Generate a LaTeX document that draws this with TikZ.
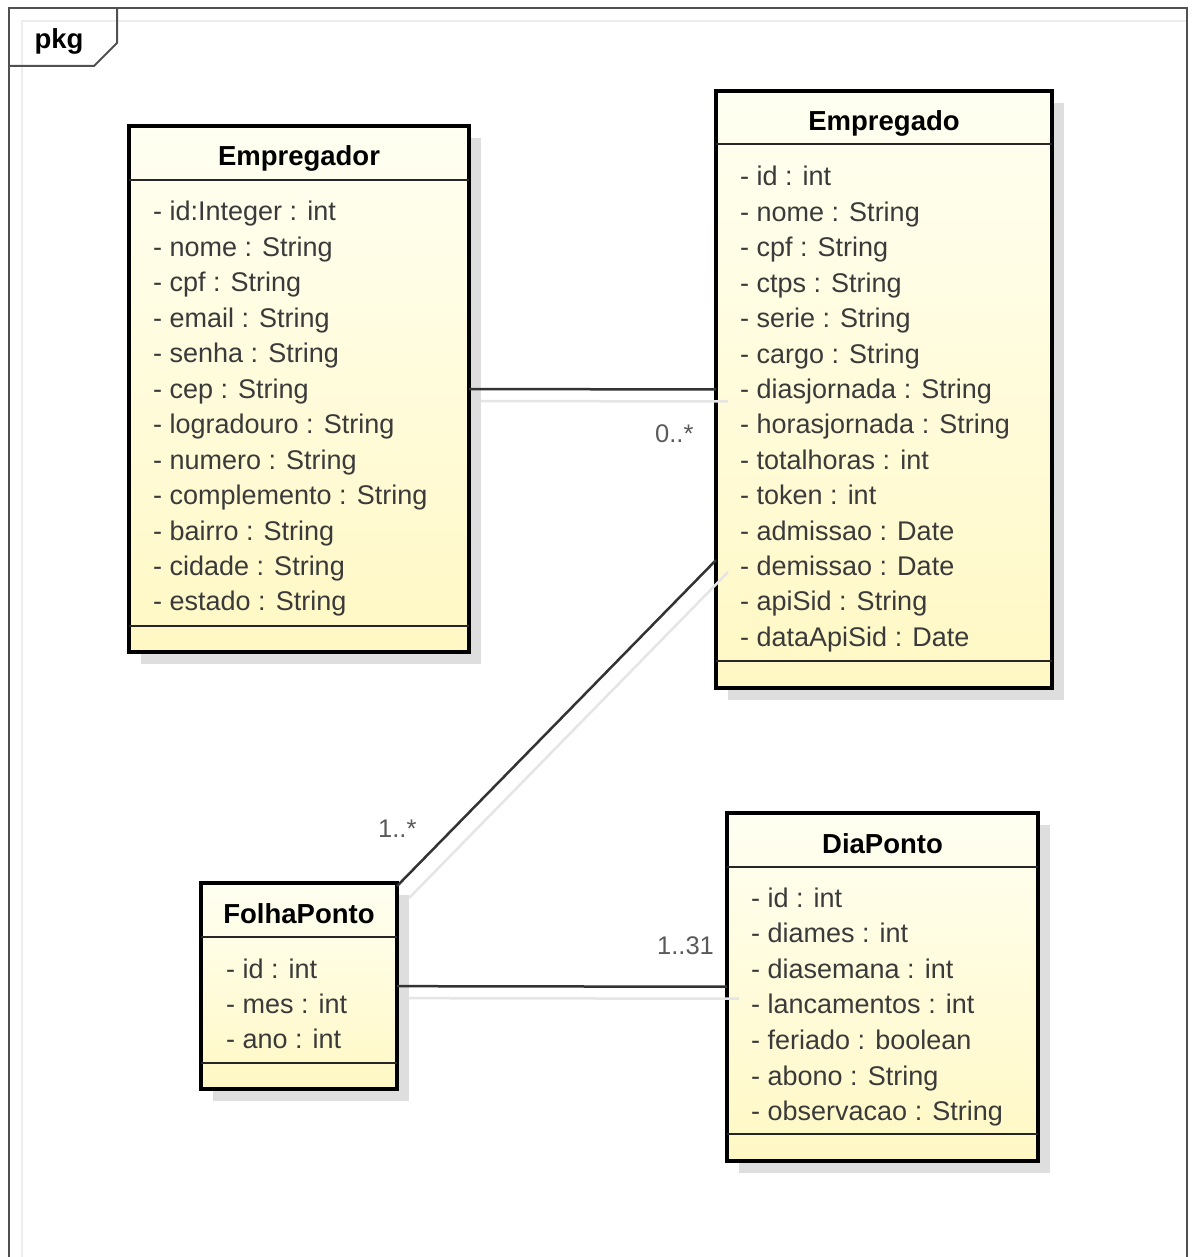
\documentclass[tikz,border=0pt]{standalone}
\usepackage{fontspec}
\setmainfont{Liberation Sans}
\usetikzlibrary{shadows}

\definecolor{umltop}{HTML}{FFFFF2}
\definecolor{umlbottom}{HTML}{FFF8C4}
\definecolor{attrgray}{HTML}{3A3A3A}
\definecolor{multgray}{HTML}{5A5A5A}
\definecolor{framegray}{HTML}{505050}

\tikzset{
    classbox/.style={draw=black, line width=4pt, rectangle, inner sep=0pt, outer sep=0pt,
        top color=umltop, bottom color=umlbottom,
        drop shadow={shadow xshift=12pt, shadow yshift=-12pt, fill=black!13, opacity=1}},
    classname/.style={anchor=base, inner sep=0pt, font=\fontsize{27.5}{32}\selectfont\bfseries},
    attribute/.style={anchor=base west, inner sep=0pt, text=attrgray, font=\fontsize{27}{32}\selectfont},
    compline/.style={draw=black!85, line width=2pt},
    link/.style={draw=black!80, line width=2.5pt},
    linkshadow/.style={draw=black!10, line width=2.5pt, transform canvas={shift={(12pt,-12pt)}}},
    mult/.style={anchor=base west, inner sep=0pt, text=multgray, font=\fontsize{25.5}{30}\selectfont}
}

\begin{document}
\begin{tikzpicture}[x=1pt, y=-1pt]
    \useasboundingbox (0,0) rectangle (1193,1257);

    % package frame
    \draw[black!7, line width=2pt] (22,1257) -- (22,21) -- (1187,21);
    \draw[framegray, line width=2pt] (9,1257) -- (9,8) -- (1187,8) -- (1187,1257);
    \draw[framegray, line width=2pt] (9,66) -- (94,66) -- (117,43) -- (117,8);
    \node[anchor=base, inner sep=0pt, font=\fontsize{27.5}{32}\selectfont\bfseries] at (59,48.5) (pkg) {pkg};

    % Empregador
    \node[classbox, minimum width=340pt, minimum height=526pt] at (299,389) (empregador) {};
    \node[classname] at ([yshift=-40pt]empregador.north) (empregador-name) {Empregador};
    \draw[compline] ([yshift=-54pt]empregador.north west) -- ([yshift=-54pt]empregador.north east);
    \draw[compline] ([yshift=26pt]empregador.south west) -- ([yshift=26pt]empregador.south east);
    \foreach \attr [count=\i] in {- id:Integer : int, - nome : String, - cpf : String,
            - email : String, - senha : String, - cep : String, - logradouro : String,
            - numero : String, - complemento : String, - bairro : String,
            - cidade : String, - estado : String}
        \node[attribute] at ([xshift=24pt, yshift={-95pt-35.45pt*(\i-1)}]empregador.north west) (empregador-\i) {\attr};

    % Empregado
    \node[classbox, minimum width=336pt, minimum height=597pt] at (884,389.5) (empregado) {};
    \node[classname] at ([yshift=-40pt]empregado.north) (empregado-name) {Empregado};
    \draw[compline] ([yshift=-53pt]empregado.north west) -- ([yshift=-53pt]empregado.north east);
    \draw[compline] ([yshift=27pt]empregado.south west) -- ([yshift=27pt]empregado.south east);
    \foreach \attr [count=\i] in {- id : int, - nome : String, - cpf : String, - ctps : String,
            - serie : String, - cargo : String, - diasjornada : String,
            - horasjornada : String, - totalhoras : int, - token : int,
            - admissao : Date, - demissao : Date, - apiSid : String, - dataApiSid : Date}
        \node[attribute] at ([xshift=24pt, yshift={-95pt-35.4pt*(\i-1)}]empregado.north west) (empregado-\i) {\attr};

    % FolhaPonto
    \node[classbox, minimum width=196pt, minimum height=206pt] at (299,986) (folhaponto) {};
    \node[classname] at ([yshift=-40pt]folhaponto.north) (folhaponto-name) {FolhaPonto};
    \draw[compline] ([yshift=-54pt]folhaponto.north west) -- ([yshift=-54pt]folhaponto.north east);
    \draw[compline] ([yshift=26pt]folhaponto.south west) -- ([yshift=26pt]folhaponto.south east);
    \foreach \attr [count=\i] in {- id : int, - mes : int, - ano : int}
        \node[attribute] at ([xshift=25pt, yshift={-95pt-35.4pt*(\i-1)}]folhaponto.north west) (folhaponto-\i) {\attr};

    % DiaPonto
    \node[classbox, minimum width=311pt, minimum height=348pt] at (882.5,987) (diaponto) {};
    \node[classname] at ([yshift=-40pt]diaponto.north) (diaponto-name) {DiaPonto};
    \draw[compline] ([yshift=-54pt]diaponto.north west) -- ([yshift=-54pt]diaponto.north east);
    \draw[compline] ([yshift=27pt]diaponto.south west) -- ([yshift=27pt]diaponto.south east);
    \foreach \attr [count=\i] in {- id : int, - diames : int, - diasemana : int,
            - lancamentos : int, - feriado : boolean, - abono : String, - observacao : String}
        \node[attribute] at ([xshift=24pt, yshift={-94pt-35.6pt*(\i-1)}]diaponto.north west) (diaponto-\i) {\attr};

    % associations
    \draw[linkshadow] (empregador) -- (empregado);
    \draw[linkshadow] (empregado) -- (folhaponto);
    \draw[linkshadow] (folhaponto) -- (diaponto);
    \draw[link] (empregador) -- (empregado);
    \draw[link] (empregado) -- (folhaponto);
    \draw[link] (folhaponto) -- (diaponto);

    \node[mult] at (655,442) (mult-empregado) {0..*};
    \node[mult] at (378,837) (mult-folhaponto) {1..*};
    \node[mult] at (657,954) (mult-diaponto) {1..31};
\end{tikzpicture}
\end{document}
